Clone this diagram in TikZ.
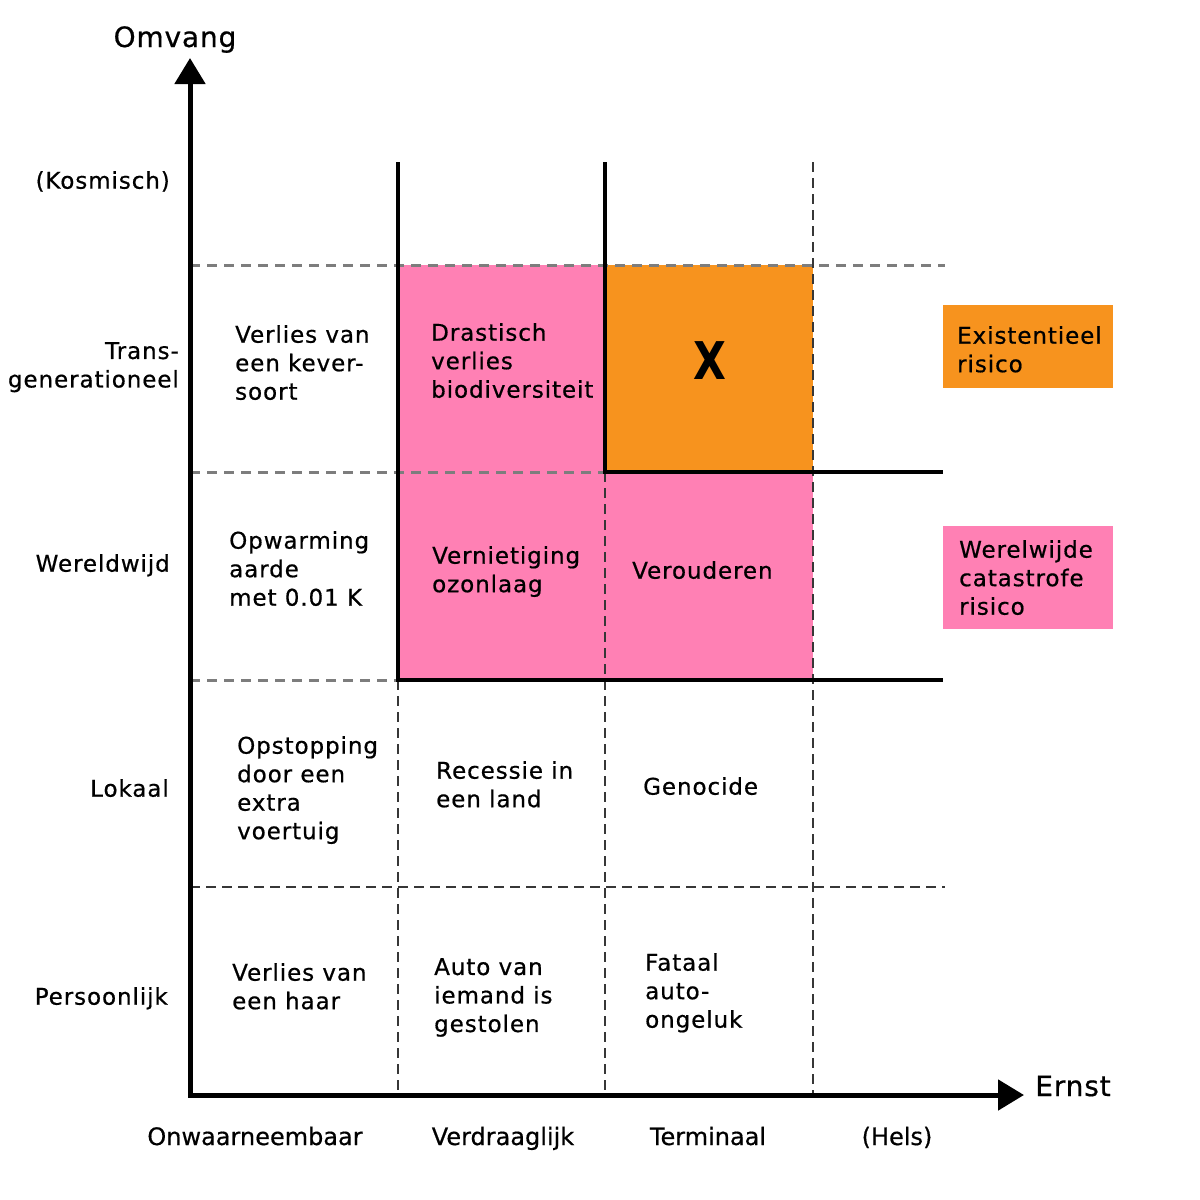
\documentclass[tikz,border=0pt]{standalone}
\usepackage{fontspec}
\setmainfont{DejaVu Sans}
\newfontfamily\cellfont[LetterSpace=4,FakeBold=0.6]{DejaVu Sans}
\newfontfamily\axisfont[LetterSpace=3,FakeBold=0.6]{DejaVu Sans}
\newfontfamily\colfont[FakeBold=0.5]{DejaVu Sans}
\usetikzlibrary{arrows.meta}
\definecolor{riskpink}{RGB}{255,128,180}
\definecolor{riskorange}{RGB}{247,147,30}
\definecolor{gridgray}{RGB}{125,125,125}
\definecolor{griddark}{RGB}{55,55,55}
\begin{document}
\begin{tikzpicture}[x=1pt,y=-1pt,
  celltext/.style={anchor=north west, inner sep=0pt, align=left, font=\cellfont\fontsize{23}{28.5}\selectfont},
  rowlabel/.style={anchor=north east, inner sep=0pt, align=right, font=\cellfont\fontsize{23}{28.5}\selectfont},
  collabel/.style={anchor=base, inner sep=0pt, font=\colfont\fontsize{24}{28}\selectfont},
  axislabel/.style={anchor=base, inner sep=0pt, font=\axisfont\fontsize{28}{32}\selectfont},
  gridline/.style={gridgray, line width=3pt, dash pattern=on 10pt off 7pt},
  darkgrid/.style={griddark, line width=2.5pt, dash pattern=on 10pt off 6pt},
  boundary/.style={black, line width=3.5pt},
  axis/.style={black, line width=5pt, line join=miter, {Triangle[length=26pt,width=30pt]}-{Triangle[length=26pt,width=30pt]}},
]
\useasboundingbox[fill=white] (0,0) rectangle (1200,1200);

% coordinates
\coordinate (O) at (190,1095);
\coordinate (ytip) at (190,58);
\coordinate (xtip) at (1024,1095);

% coloured regions
\fill[riskpink] (398,265) rectangle (813,680);
\fill[riskorange] (605,265) rectangle (813,472);
\fill[riskorange] (943,305) rectangle (1113,388);
\fill[riskpink] (943,526) rectangle (1113,629);

% grid
\draw[gridline] (190,265) -- (945,265);
\draw[gridline] (190,472) -- (605,472);
\draw[gridline] (190,680) -- (398,680);
\draw[darkgrid] (190,887) -- (945,887);
\draw[darkgrid] (398,680) -- (398,1095);
\draw[darkgrid] (605,472) -- (605,1095);
\draw[darkgrid] (813,162) -- (813,1095);
\draw[boundary] (398,162) -- (398,680) -- (943,680);
\draw[boundary] (605,162) -- (605,472) -- (943,472);

% axes
\draw[axis] (ytip) -- (O) -- (xtip);
\node[axislabel] (omvang) at (175,47) {Omvang};
\node[axislabel] (ernst) at (1073,1096) {Ernst};

% row labels
\node[rowlabel] (kosmisch) at (170,171) {(Kosmisch)};
\node[rowlabel] (trans) at (179,342) {Trans-\\generationeel};
\node[rowlabel] (wereld) at (170,554) {Wereldwijd};
\node[rowlabel] (lokaal) at (169,779) {Lokaal};
\node[rowlabel] (persoon) at (168,987) {Persoonlijk};

% column labels
\node[collabel] (onw) at (255,1145) {Onwaarneembaar};
\node[collabel] (verd) at (503,1145) {Verdraaglijk};
\node[collabel] (term) at (708,1145) {Terminaal};
\node[collabel] (hels) at (897,1145) {(Hels)};

% cells
\node[celltext] (kever) at (235,325) {Verlies van\\een kever-\\soort};
\node[celltext] (drastisch) at (431,323) {Drastisch\\verlies\\biodiversiteit};
\node[font=\bfseries\fontsize{52}{56}\selectfont, inner sep=0pt] (x) at (710,361) {\scalebox{0.82}[1]{X}};
\node[celltext] (opwarming) at (229,531) {Opwarming\\aarde\\met 0.01 K};
\node[celltext] (ozon) at (432,546) {Vernietiging\\ozonlaag};
\node[celltext] (verouderen) at (632,561) {Verouderen};
\node[celltext] (opstopping) at (237,736) {Opstopping\\door een\\extra\\voertuig};
\node[celltext] (recessie) at (436,761) {Recessie in\\een land};
\node[celltext] (genocide) at (643,777) {Genocide};
\node[celltext] (haar) at (232,963) {Verlies van\\een haar};
\node[celltext] (auto) at (434,958) {Auto van\\iemand is\\gestolen};
\node[celltext] (fataal) at (645,953) {Fataal\\auto-\\ongeluk};

% legend
\node[celltext] (exist) at (957,326) {Existentieel\\risico};
\node[celltext] (catas) at (959,540) {Werelwijde\\catastrofe\\risico};
\end{tikzpicture}
\end{document}
